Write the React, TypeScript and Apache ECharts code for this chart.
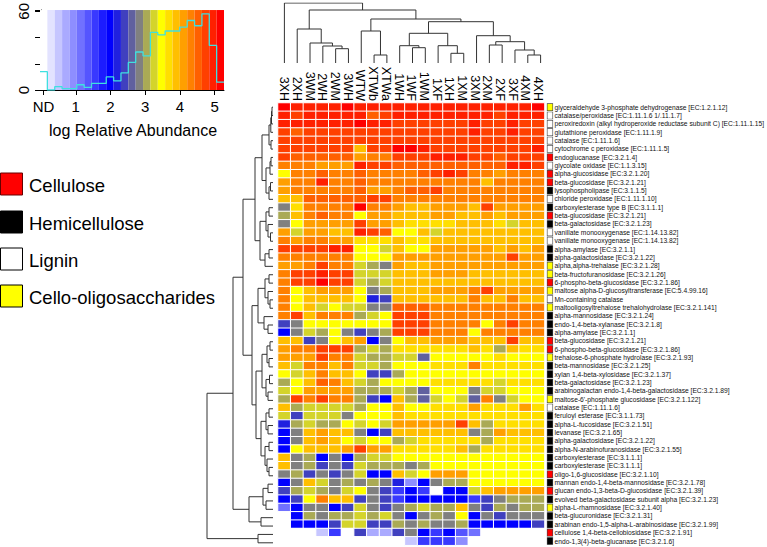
import React, { useEffect, useRef } from 'react';
import * as echarts from 'echarts';

const columns = ['3XH','2XH','3WM','2WH','2WM','3WH','WTW','XTWb','XTWa','1WH','1WF','1WM','1XF','1XH','1XM','3XM','2XM','2XF','3XF','4XM','4XH'];

const rowLabels = [
  'glyceraldehyde 3-phosphate dehydrogenase [EC:1.2.1.12]',
  'catalase/peroxidase [EC:1.11.1.6 1/.11.1.7]',
  'peroxiredoxin (alkyl hydroperoxide reductase subunit C) [EC:1.11.1.15]',
  'glutathione peroxidase [EC:1.11.1.9]',
  'catalase [EC:1.11.1.6]',
  'cytochrome c peroxidase [EC:1.11.1.5]',
  'endoglucanase [EC:3.2.1.4]',
  'glycolate oxidase [EC:1.1.3.15]',
  'alpha-glucosidase [EC:3.2.1.20]',
  'beta-glucosidase [EC:3.2.1.21]',
  'lysophospholipase [EC:3.1.1.5]',
  'chloride peroxidase [EC:1.11.1.10]',
  'carboxylesterase type B [EC:3.1.1.1]',
  'beta-glucosidase [EC:3.2.1.21]',
  'beta-galactosidase [EC:3.2.1.23]',
  'vanillate monooxygenase [EC:1.14.13.82]',
  'vanillate monooxygenase [EC:1.14.13.82]',
  'alpha-amylase [EC:3.2.1.1]',
  'alpha-galactosidase [EC:3.2.1.22]',
  'alpha,alpha-trehalase [EC:3.2.1.28]',
  'beta-fructofuranosidase [EC:3.2.1.26]',
  '6-phospho-beta-glucosidase [EC:3.2.1.86]',
  'maltose alpha-D-glucosyltransferase [EC:5.4.99.16]',
  'Mn-containing catalase',
  'maltooligosyltrehalose trehalohydrolase [EC:3.2.1.141]',
  'alpha-mannosidase [EC:3.2.1.24]',
  'endo-1,4-beta-xylanase [EC:3.2.1.8]',
  'alpha-amylase [EC:3.2.1.1]',
  'beta-glucosidase [EC:3.2.1.21]',
  '6-phospho-beta-glucosidase [EC:3.2.1.86]',
  'trehalose-6-phosphate hydrolase [EC:3.2.1.93]',
  'beta-mannosidase [EC:3.2.1.25]',
  'xylan 1,4-beta-xylosidase [EC:3.2.1.37]',
  'beta-galactosidase [EC:3.2.1.23]',
  'arabinogalactan endo-1,4-beta-galactosidase [EC:3.2.1.89]',
  "maltose-6'-phosphate glucosidase [EC:3.2.1.122]",
  'catalase [EC:1.11.1.6]',
  'feruloyl esterase [EC:3.1.1.73]',
  'alpha-L-fucosidase [EC:3.2.1.51]',
  'levanase [EC:3.2.1.65]',
  'alpha-galactosidase [EC:3.2.1.22]',
  'alpha-N-arabinofuranosidase [EC:3.2.1.55]',
  'carboxylesterase [EC:3.1.1.1]',
  'carboxylesterase [EC:3.1.1.1]',
  'oligo-1,6-glucosidase [EC:3.2.1.10]',
  'mannan endo-1,4-beta-mannosidase [EC:3.2.1.78]',
  'glucan endo-1,3-beta-D-glucosidase [EC:3.2.1.39]',
  'evolved beta-galactosidase subunit alpha [EC:3.2.1.23]',
  'alpha-L-rhamnosidase [EC:3.2.1.40]',
  'beta-glucuronidase [EC:3.2.1.31]',
  'arabinan endo-1,5-alpha-L-arabinosidase [EC:3.2.1.99]',
  'cellulose 1,4-beta-cellobiosidase [EC:3.2.1.91]',
  'endo-1,3(4)-beta-glucanase [EC:3.2.1.6]',
];

// c = Cellulose, h = Hemicellulose, l = Lignin, y = Cello-oligosaccharides
const rowClass = ['y','l','l','l','l','l','c','l','c','c','h','l','h','c','h','l','l','h','h','y','y','c','y','l','y','h','h','h','c','c','y','h','h','h','h','y','l','h','h','h','h','h','h','h','c','h','c','h','y','h','h','c','h'];

// log relative abundance (0 = not detected)
const values = [
  [5.1,5.0,5.0,5.0,5.0,5.1,4.9,5.0,5.0,5.0,5.0,5.0,5.0,5.0,5.0,5.0,5.0,5.0,5.0,5.0,5.1],
  [5.0,4.7,4.9,4.9,4.9,4.9,5.0,4.5,4.7,4.9,4.9,4.9,4.9,4.9,4.9,4.9,4.9,4.8,4.9,4.9,4.9],
  [4.9,4.9,4.9,4.9,4.9,4.9,5.1,4.9,4.9,4.8,4.8,4.8,4.8,4.8,4.8,4.9,4.8,4.8,4.9,4.8,4.8],
  [4.8,4.6,4.7,4.7,4.7,4.7,4.8,4.7,4.7,4.7,4.7,4.7,4.7,4.7,4.7,4.9,4.7,4.7,4.9,4.7,4.7],
  [4.7,4.7,4.7,4.7,4.7,4.7,4.7,4.7,4.7,4.7,4.7,4.7,4.7,4.7,4.7,4.7,4.7,4.7,4.7,4.7,4.7],
  [4.8,4.7,4.7,4.7,4.7,4.7,3.8,4.7,4.7,5.1,5.1,5.0,4.8,4.8,4.8,4.8,4.8,4.7,4.8,4.8,4.9],
  [4.7,4.6,4.6,4.6,4.6,4.6,4.2,4.3,4.3,4.7,4.7,4.7,4.9,4.9,4.9,4.7,4.7,4.6,4.7,4.7,4.7],
  [4.3,4.3,4.3,4.0,4.0,4.0,5.0,4.8,4.8,4.6,4.6,4.6,4.6,4.6,4.6,4.6,4.6,4.6,4.9,4.9,4.8],
  [3.5,4.3,4.3,4.6,4.3,4.3,4.6,4.3,4.3,4.3,4.3,4.6,4.8,5.0,4.8,4.3,4.3,4.0,4.3,4.3,4.3],
  [4.2,4.3,4.3,4.9,4.3,4.3,4.6,4.3,4.3,4.3,4.3,4.3,4.4,4.4,4.4,4.3,3.8,4.3,4.3,4.3,4.3],
  [4.2,4.3,4.3,4.4,4.3,4.3,4.6,4.0,4.0,4.3,4.6,4.6,4.7,4.3,4.3,4.3,4.3,4.3,4.3,4.3,4.3],
  [3.8,3.8,4.6,4.6,4.6,4.6,4.6,4.8,4.8,4.3,4.3,4.3,4.3,4.3,4.3,4.3,4.3,4.3,4.3,4.3,4.3],
  [2.8,3.7,4.4,4.4,4.4,4.4,5.1,4.3,4.3,4.0,3.9,3.9,4.0,4.0,4.0,3.8,4.7,4.2,4.2,4.2,4.2],
  [3.1,3.8,4.3,4.6,4.3,4.3,3.5,4.0,4.0,3.9,3.9,3.9,4.0,4.0,3.9,3.9,4.0,3.9,4.0,4.0,4.0],
  [2.8,3.5,4.0,4.2,4.0,4.0,4.7,4.2,4.2,3.8,3.7,3.7,3.7,3.7,3.8,3.8,3.8,3.7,3.3,3.8,3.8],
  [4.2,3.3,4.2,4.2,3.9,3.9,5.0,4.7,4.6,3.5,3.5,3.8,3.3,3.8,3.8,3.8,3.8,3.8,3.8,3.8,3.9],
  [4.4,4.2,4.3,4.3,4.2,4.2,3.6,3.7,3.7,3.8,3.7,3.7,3.9,3.9,3.9,3.9,3.9,3.9,3.9,3.9,3.9],
  [4.7,4.7,4.7,4.7,5.0,5.0,3.5,3.5,3.3,3.8,3.5,3.5,4.2,4.2,4.2,4.2,4.2,3.8,4.2,3.8,4.2],
  [4.4,4.4,4.4,4.4,4.4,4.4,3.5,3.4,3.4,4.0,4.0,4.0,4.2,4.2,4.2,4.0,4.0,4.0,4.7,4.0,4.0],
  [4.0,4.0,4.3,4.7,4.3,4.3,3.3,3.0,2.9,4.0,3.9,3.9,4.2,4.2,4.2,4.0,4.0,4.0,4.0,4.0,4.0],
  [4.3,4.7,4.7,4.9,4.7,4.7,3.3,3.3,3.3,3.9,3.9,3.9,4.0,4.0,4.0,3.9,3.9,3.9,3.9,3.9,3.9],
  [4.3,4.7,4.7,5.2,4.8,4.8,3.3,3.0,3.3,3.8,3.8,3.8,3.9,3.9,3.9,3.8,3.9,3.8,3.9,3.8,3.9],
  [4.3,3.5,3.8,4.2,4.2,4.2,3.5,2.9,3.0,3.9,3.9,3.9,4.0,4.0,4.0,4.3,4.7,4.0,4.0,4.0,4.0],
  [4.3,3.5,3.8,3.8,3.8,3.8,3.5,2.2,2.5,3.9,3.9,3.9,3.9,3.9,3.9,4.3,3.9,3.9,4.3,3.9,3.9],
  [4.3,3.5,3.8,3.3,3.5,3.3,3.3,2.8,2.8,4.6,4.6,4.6,4.3,4.3,4.3,4.3,4.3,4.3,4.3,4.3,4.3],
  [4.3,4.7,3.8,4.3,4.3,4.3,3.0,3.3,3.5,4.8,4.8,4.8,4.3,4.3,4.3,4.3,4.3,4.3,4.3,4.3,4.3],
  [2.4,2.9,3.5,3.5,3.5,3.5,3.5,3.5,3.5,4.8,4.8,4.8,4.3,4.3,4.3,4.3,3.5,4.3,4.8,4.3,4.3],
  [2.0,2.8,3.3,3.0,3.5,2.8,2.4,2.9,3.0,4.7,4.7,4.7,4.3,4.3,4.3,3.5,4.3,4.3,4.3,4.3,4.3],
  [3.8,3.8,2.4,2.8,3.5,3.8,4.2,1.9,2.8,3.5,3.9,3.9,4.2,4.2,4.2,3.9,3.9,3.9,4.8,3.9,3.9],
  [4.2,4.3,4.3,4.7,4.7,4.7,3.0,3.3,3.0,3.6,3.6,3.6,3.6,3.6,3.6,3.8,3.6,3.0,3.8,3.6,3.6],
  [4.2,4.2,4.2,4.7,4.3,4.3,3.3,3.0,3.0,3.3,3.3,2.6,3.5,3.5,3.5,3.5,3.5,3.7,3.5,3.5,3.5],
  [3.8,3.3,4.3,4.3,3.8,4.3,3.3,3.3,3.0,3.5,3.5,3.5,3.7,3.7,3.7,4.3,3.7,3.7,3.7,3.7,3.7],
  [3.5,3.3,3.8,4.3,3.8,3.8,3.5,2.4,2.4,3.0,3.5,3.5,3.5,3.5,3.5,3.5,3.5,3.5,3.5,3.5,3.5],
  [3.0,3.5,3.8,4.6,4.3,3.8,3.3,3.0,3.5,3.5,3.5,3.5,3.6,3.6,3.6,3.6,3.6,3.3,3.6,3.6,3.6],
  [3.3,3.5,4.2,4.2,4.2,4.2,3.0,3.0,3.0,3.3,3.0,2.6,3.5,3.5,3.5,2.8,3.3,3.3,3.5,3.5,3.5],
  [3.0,4.7,4.3,4.8,4.3,4.3,3.0,2.4,2.0,3.8,3.0,2.6,3.3,3.5,3.3,2.6,4.3,2.8,3.3,3.5,3.5],
  [3.8,3.0,3.3,3.3,3.3,3.3,3.0,3.5,3.5,3.8,3.5,3.5,3.6,3.6,3.6,4.2,3.6,3.6,3.6,4.2,3.6],
  [3.3,2.4,3.3,3.3,3.3,2.8,3.5,3.5,3.5,3.8,3.7,3.7,3.7,3.7,3.7,3.7,3.7,3.7,3.7,3.7,3.7],
  [2.1,3.0,3.3,3.0,3.0,3.5,3.3,3.5,3.3,4.2,4.2,4.2,4.2,4.2,4.7,3.8,3.0,3.7,3.7,3.7,3.7],
  [1.9,2.8,3.8,4.2,3.8,3.8,2.8,2.0,2.5,3.8,3.8,3.8,3.8,3.8,3.8,2.8,3.0,4.2,3.8,3.8,3.8],
  [2.0,2.8,3.8,4.2,3.8,3.5,3.3,3.5,3.5,3.0,3.3,3.6,3.6,3.6,3.6,3.6,3.0,3.6,3.6,3.6,3.6],
  [2.0,3.5,3.8,3.8,3.8,4.2,4.7,4.2,4.2,3.7,3.7,3.6,3.6,3.6,3.8,3.0,3.6,3.6,3.6,3.6,3.6],
  [3.8,2.8,3.0,2.0,2.8,2.0,3.0,3.3,3.3,3.5,3.5,3.5,3.5,3.5,3.5,3.5,3.5,3.5,3.5,3.5,3.5],
  [3.8,2.8,3.0,2.4,2.8,2.5,3.3,3.0,3.0,3.0,2.8,3.0,3.5,3.5,3.5,3.5,3.5,3.5,3.5,3.5,3.5],
  [2.8,3.0,2.4,2.8,2.5,2.8,3.3,2.0,2.0,3.8,3.3,3.5,4.2,4.2,4.2,3.5,3.5,3.5,3.5,3.5,3.5],
  [2.0,2.8,3.8,3.3,2.9,3.0,2.8,3.0,2.8,2.3,1.0,2.0,2.8,3.0,3.0,3.5,3.5,3.5,3.5,3.5,3.5],
  [2.4,3.0,3.3,3.0,2.8,3.3,3.5,2.8,2.5,1.6,2.0,1.6,0,2.0,2.0,3.3,3.8,4.2,4.2,4.2,4.2],
  [2.0,2.5,3.5,4.3,3.8,3.8,2.5,2.8,2.5,1.6,2.0,2.0,2.0,2.0,2.0,1.6,2.5,2.8,3.0,3.0,3.0],
  [1.2,2.0,2.8,2.8,2.0,2.4,3.3,2.8,2.5,2.8,3.0,3.3,3.0,3.0,3.8,2.8,2.5,3.0,2.8,3.0,3.0],
  [0,2.0,3.0,2.8,3.0,3.0,3.3,3.0,3.3,2.8,2.0,2.8,3.0,2.8,3.5,2.0,2.8,2.5,2.8,2.8,2.8],
  [0,2.0,2.0,2.0,2.5,3.3,3.3,2.5,2.4,3.0,2.8,3.0,2.8,2.8,3.0,2.0,2.0,2.0,2.0,2.0,2.5],
  [0,0,0,0.6,1.5,0,2.5,0.7,0.7,2.5,2.8,1.9,1.5,2.0,1.4,1.1,0,0,0,0,0],
  [0,0,0,0,0,0,0,0,0,0,0.6,1.5,1.5,1.6,1.0,0,0,0,0,0,0],
];

// dendrograms: [height, left, right]; leaves are row / column indices
const colTree = [60, 0, [53, [34, 1, [20, 2, [17, 3, [14.3, 4, 5]]]], [44, [32, 6, [8, 7, 8]], [41.3, [29.7, [17.3, 9, [15.3, 10, 11]], [17.3, 12, [9.7, 13, 14]]], [27.3, 15, [21.3, [18, 16, 17], [13, 18, [8, 19, 20]]]]]]]];

const rowTree = [66,
  [40,
    [30,
      [18,
        [11, [4, [2.2, [1.5, [1, 0, 1], 2], 3], [2, 4, 5]], [7, [3, [2, 6, 7], 8], [4, [2.5, 9, 10], 11]]],
        [13, [7, [4, 12, 13], [5, 14, [2.5, 15, 16]]], [8, [4, 17, 18], 19]]],
      [21,
        [15, [8, [4, 20, 21], [5, 22, [3, 23, 24]]], [9, 25, [5, 26, 27]]],
        [17,
          [11, [6, [3, 28, 29], [4, 30, 31]], [7, [3.5, 32, 33], [5, 34, 35]]],
          [12, [7, [4, 36, 37], [5, 38, 39]], [8, [4, 40, 41], [6, 42, [4, 43, 44]]]]]]],
    [24, [10, [5, 45, 46], [7, 47, 48]], [12, 49, 50]]],
  [15, 51, 52]];

// colour key
const keyStart = -0.03;
const keyStep = 0.212;
const keyColors = ['#ffffff','#e3e3ff','#c6c6ff','#aaaaff','#8e8eff','#7171ff','#5555ff','#3939ff','#1c1cff','#0000ff','#2020df','#4040bf','#60609f','#808080','#aaaa55','#d4d42b','#ffff00','#ffdf00','#ffbf00','#ff9f00','#ff8000','#ff6000','#ff4000','#ff2000','#ff0000'];
const histCounts = [14, 0, 2.5, 1, 1, 4, 2, 5, 5, 10, 7, 13, 21, 29, 26, 44, 42, 45, 45, 48, 53, 49, 58, 34, 6];
const keyTicks = [0.07, 1, 2, 3, 4, 5];
const keyTickLabels = ['ND', '1', '2', '3', '4', '5'];

const legendNames = ['Cellulose', 'Hemicellulose', 'Lignin', 'Cello-oligosaccharides'];
const legendColors = ['#ff0000', '#000000', '#ffffff', '#ffff00'];

type Tree = number | any[];

function dendroSegments(tree: Tree, swap: boolean) {
  const out: number[][][] = [];
  const walk = (node: Tree): { p: number; h: number } => {
    if (typeof node === 'number') return { p: node, h: 0 };
    const [h, l, r] = node as any[];
    const a = walk(l);
    const b = walk(r);
    const pts = [[a.p, a.h], [a.p, h], [b.p, h], [b.p, b.h]];
    out.push(swap ? pts.map(([p, hh]) => [hh, p]) : pts);
    return { p: (a.p + b.p) / 2, h };
  };
  walk(tree);
  return out;
}

const FONT = 'Liberation Sans, Arial, Helvetica, sans-serif';

export default function App() {
  const ref = useRef<HTMLDivElement>(null);
  useEffect(() => {
    if (!ref.current) return;
    const chart = echarts.init(ref.current, undefined, { renderer: 'svg' });

    const heatData: number[][] = [];
    values.forEach((row, r) => row.forEach((v, c) => heatData.push([c, r, v])));

    const pieces = keyColors.map((color, k) => ({
      gte: keyStart + k * keyStep,
      lt: keyStart + (k + 1) * keyStep,
      color,
    }));

    const histData = histCounts.map((c, k) => [keyStart + k * keyStep, c]);
    histData.push([keyStart + histCounts.length * keyStep, histCounts[histCounts.length - 1]]);

    const colSegs = dendroSegments(colTree, false);
    const rowSegs = dendroSegments(rowTree, true);

    const squareBase = { width: 5, height: 6.5, borderColor: '#444', borderWidth: 0.6 };
    const rich: any = {
      t: { fontSize: 6.7, fontFamily: FONT, color: '#111', padding: [0, 0, 0, 2], lineHeight: 8 },
    };
    ['c', 'h', 'l', 'y'].forEach((k, i) => {
      rich[k] = { ...squareBase, backgroundColor: legendColors[i] };
    });

    const graphics: any[] = [];
    const legendY = [173, 211, 248, 285];
    legendNames.forEach((name, i) => {
      graphics.push({
        type: 'rect',
        shape: { x: 0.5, y: legendY[i], width: 22, height: 22 },
        style: { fill: legendColors[i], stroke: i === 0 ? '#600' : '#000', lineWidth: 1 },
      });
      graphics.push({
        type: 'text',
        x: 29,
        y: legendY[i] + 12,
        style: { text: name, fontSize: 18.5, fontFamily: FONT, fill: '#000', textVerticalAlign: 'middle' },
      });
    });
    graphics.push({
      type: 'text',
      x: 133,
      y: 130,
      style: { text: 'log Relative Abundance', fontSize: 16, fontFamily: FONT, fill: '#000', textAlign: 'center', textVerticalAlign: 'middle' },
    });

    const option: any = {
      animation: false,
      backgroundColor: '#ffffff',
      textStyle: { fontFamily: FONT },
      graphic: graphics,
      grid: [
        { left: 278, top: 103, width: 269, height: 444 },
        { left: 278, top: 3, width: 269, height: 60 },
        { left: 207, top: 103, width: 66, height: 444 },
        { left: 40, top: 7, width: 184, height: 83 },
      ],
      visualMap: {
        type: 'piecewise',
        show: false,
        seriesIndex: 0,
        dimension: 2,
        pieces,
      },
      xAxis: [
        {
          type: 'category', gridIndex: 0, data: columns, position: 'top',
          axisLine: { show: false }, axisTick: { show: false }, splitLine: { show: false },
          axisLabel: { rotate: 90, fontSize: 12.5, margin: 2, color: '#000', fontFamily: FONT, interval: 0 },
        },
        { type: 'value', gridIndex: 1, min: -0.5, max: columns.length - 0.5, show: false },
        { type: 'value', gridIndex: 2, min: 0, max: 66, inverse: true, show: false },
        { type: 'category', gridIndex: 3, data: keyColors.map((_, k) => String(k)), show: false },
        {
          type: 'value', gridIndex: 3, position: 'bottom',
          min: keyStart, max: keyStart + keyColors.length * keyStep,
          splitLine: { show: false },
          axisLine: { show: true, lineStyle: { color: '#000', width: 1 } },
          axisTick: { show: true, customValues: keyTicks, length: 5, lineStyle: { color: '#000' } },
          axisLabel: {
            customValues: keyTicks, fontSize: 15, color: '#000', margin: 9, fontFamily: FONT,
            formatter: (v: number) => keyTickLabels[keyTicks.indexOf(v)] ?? '',
          },
        },
      ],
      yAxis: [
        {
          type: 'category', gridIndex: 0, data: rowLabels.map((_, i) => String(i)), inverse: true, position: 'right',
          axisLine: { show: false }, axisTick: { show: false }, splitLine: { show: false },
          axisLabel: {
            interval: 0, margin: 3, align: 'left',
            formatter: (v: string) => `{${rowClass[Number(v)]}|}{t|${rowLabels[Number(v)]}}`,
            rich,
          },
        },
        { type: 'value', gridIndex: 1, min: 0, max: 60, show: false },
        { type: 'value', gridIndex: 2, min: -0.5, max: rowLabels.length - 0.5, inverse: true, show: false },
        {
          type: 'value', gridIndex: 3, min: 0, max: 61, interval: 20,
          splitLine: { show: false },
          axisLine: { show: true, lineStyle: { color: '#000', width: 1 } },
          axisTick: { show: true, length: 6, lineStyle: { color: '#000' } },
          axisLabel: {
            rotate: 90, fontSize: 15, color: '#000', margin: 9, fontFamily: FONT,
            formatter: (v: number) => (v === 0 || v === 60 ? String(v) : ''),
          },
        },
      ],
      series: [
        {
          type: 'heatmap', xAxisIndex: 0, yAxisIndex: 0, data: heatData,
          itemStyle: { borderColor: '#ffffff', borderWidth: 1 },
          emphasis: { disabled: true },
        },
        {
          type: 'lines', coordinateSystem: 'cartesian2d', xAxisIndex: 1, yAxisIndex: 1, polyline: true,
          data: colSegs.map((coords) => ({ coords })),
          lineStyle: { color: '#333', width: 1, opacity: 1 },
        },
        {
          type: 'lines', coordinateSystem: 'cartesian2d', xAxisIndex: 2, yAxisIndex: 2, polyline: true,
          data: rowSegs.map((coords) => ({ coords })),
          lineStyle: { color: '#333', width: 1, opacity: 1 },
        },
        {
          type: 'bar', xAxisIndex: 3, yAxisIndex: 3, barCategoryGap: '0%',
          data: keyColors.map((color) => ({ value: 61, itemStyle: { color } })),
          silent: true,
        },
        {
          type: 'line', xAxisIndex: 4, yAxisIndex: 3, step: 'end', symbol: 'none',
          data: histData,
          lineStyle: { color: '#3fe0e0', width: 1.3 },
          z: 5,
        },
      ],
    };
    chart.setOption(option);
    return () => chart.dispose();
  }, []);
  return <div ref={ref} style={{ position: 'absolute', left: 0, top: 0, width: 767, height: 547 }} />;
}
